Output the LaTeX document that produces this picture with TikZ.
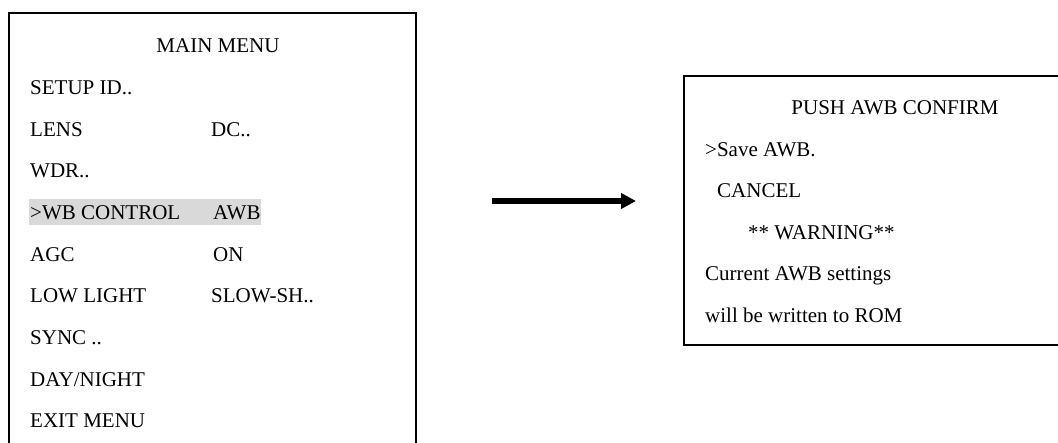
\documentclass[tikz,border=0pt]{standalone}
\usepackage{fontspec}
\setmainfont{Liberation Serif}
\usetikzlibrary{arrows.meta}
\tikzset{
    menutext/.style={anchor=base west,inner sep=0pt,font=\fontsize{21}{24}\selectfont},
    menutitle/.style={menutext,anchor=base},
    screenframe/.style={line width=2.2pt}
}
\begin{document}
\begin{tikzpicture}[x=1pt,y=-1pt]
        \useasboundingbox (0,0) rectangle (1058,443);
        \clip (0,0) rectangle (1058,443);
        \fill[gray!30] (29,199) rectangle (261,225);
        \draw[screenframe] (9,450)--(9,13)--(416,13)--(416,450);
        \draw[screenframe] (1065,76)--(684,76)--(684,345)--(1065,345);
        \node[menutitle] (mainmenu) at (218,53) {MAIN MENU};
        \node[menutext] (setupid) at (30,95) {SETUP ID..};
        \node[menutext] (lens) at (30,137) {LENS};
        \node[menutext] (lensval) at (211,137) {DC..};
        \node[menutext] (wdr) at (30,178) {WDR..};
        \node[menutext] (wbctrl) at (30,220) {>WB CONTROL};
        \node[menutext] (wbval) at (213,220) {AWB};
        \node[menutext] (agc) at (30,262) {AGC};
        \node[menutext] (agcval) at (213,262) {ON};
        \node[menutext] (lowlight) at (30,303) {LOW LIGHT};
        \node[menutext] (lowlightval) at (211,303) {SLOW-SH..};
        \node[menutext] (sync) at (30,345) {SYNC ..};
        \node[menutext] (daynight) at (30,387) {DAY/NIGHT};
        \node[menutext] (exitmenu) at (30,428) {EXIT MENU};
        \node[menutitle] (pushawb) at (895,115) {PUSH AWB CONFIRM};
        \node[menutext] (saveawb) at (705,157) {>Save AWB.};
        \node[menutext] (cancel) at (717,198) {CANCEL};
        \node[menutext] (warning) at (748,240) {** WARNING**};
        \node[menutext] (current) at (705,281) {Current AWB settings};
        \node[menutext] (rom) at (705,323) {will be written to ROM};
        \coordinate (arrowstart) at (492,201);
        \coordinate (arrowend) at (636,201);
        \draw[line width=5.5pt,-{Triangle[length=15pt,width=15pt]}] (arrowstart)--(arrowend);
    \end{tikzpicture}
\end{document}
